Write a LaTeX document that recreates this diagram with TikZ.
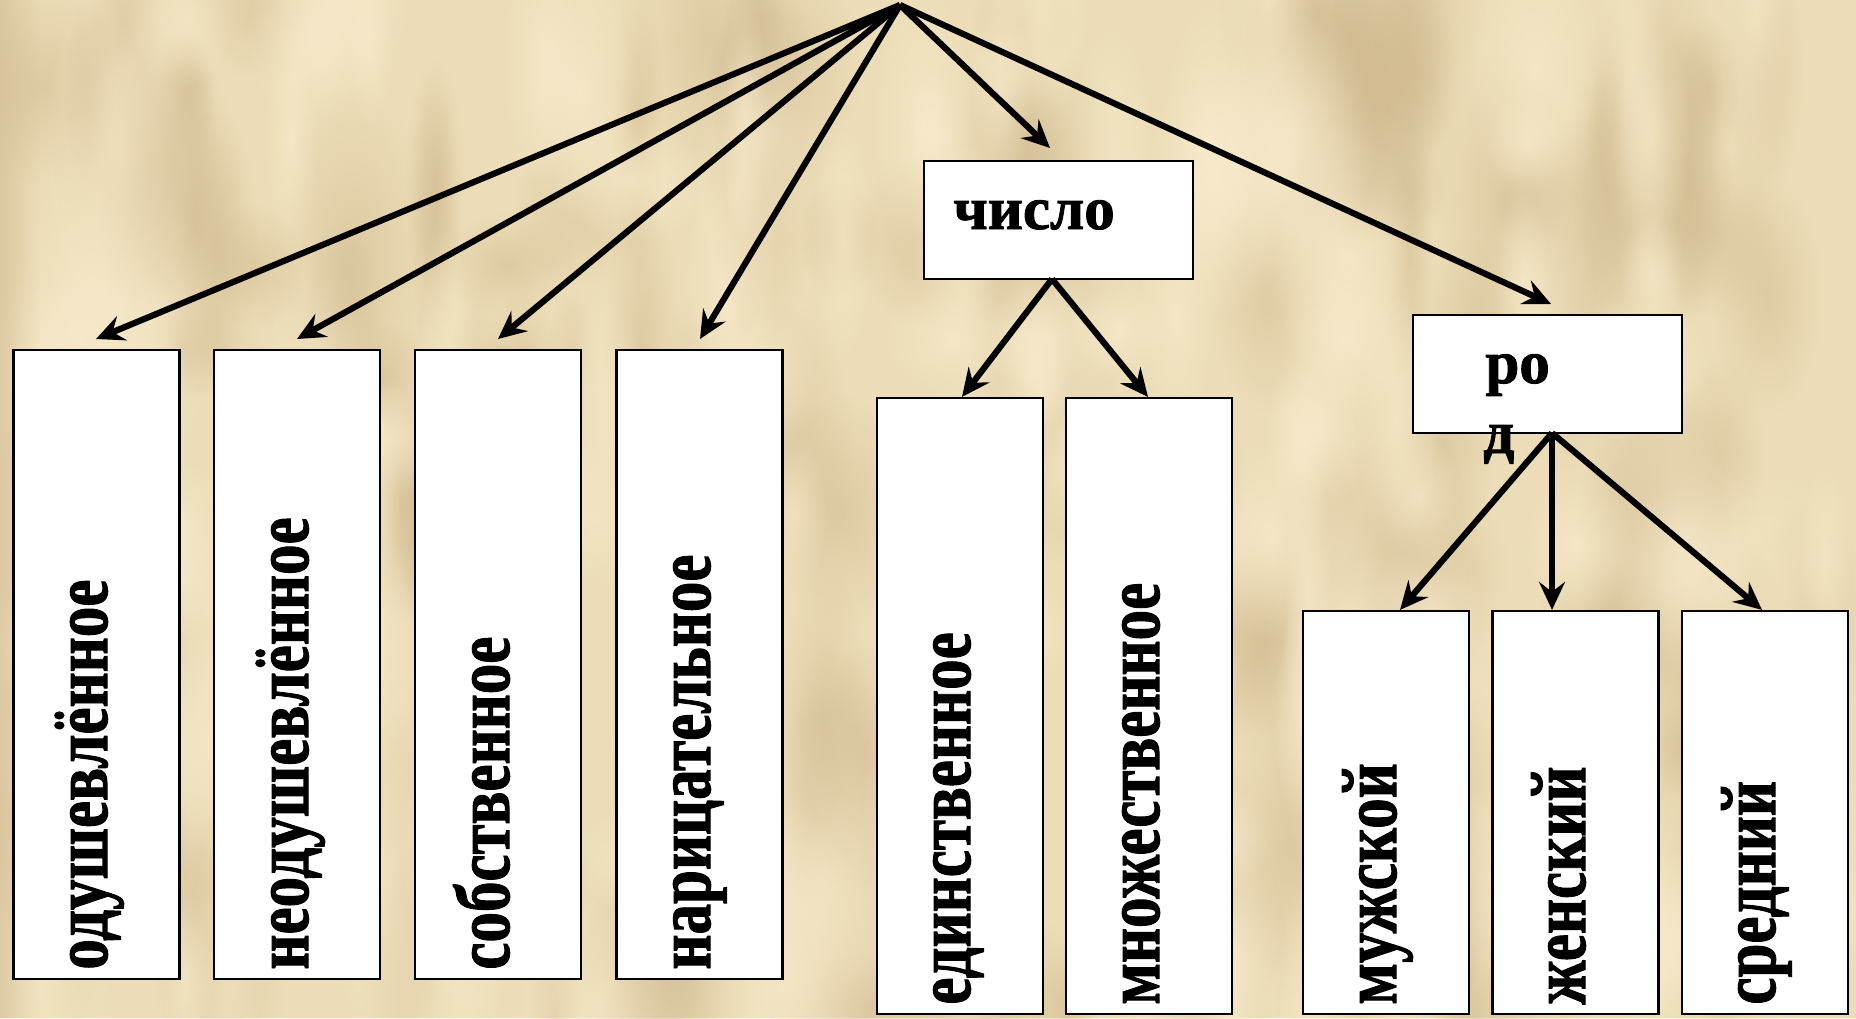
\documentclass[tikz,border=0pt]{standalone}
\usepackage{fontspec}
\setmainfont{Liberation Serif}[BoldFeatures={FakeBold=1.5}]
\usetikzlibrary{arrows.meta,fadings}
\definecolor{parch}{RGB}{236,221,184}
\definecolor{parchdark}{RGB}{205,180,136}
\definecolor{parchlight}{RGB}{250,237,208}
\tikzfading[name=blobfade, inner color=transparent!0, outer color=transparent!100]
\tikzset{
  box/.style={draw=black, line width=1.1pt, fill=white, inner sep=0pt},
  conn/.style={line width=3.1pt, -{Stealth[length=14pt,width=13pt,inset=5pt]}},
  vtext/.style={rotate=90, yscale=1.28, anchor=base west, inner sep=0pt, font=\fontsize{30.5}{36}\selectfont\bfseries},
  htext/.style={anchor=base west, inner sep=0pt, font=\fontsize{30.5}{36}\selectfont\bfseries},
}
\begin{document}
\begin{tikzpicture}[x=0.5pt,y=-0.5pt]
\useasboundingbox (0,0) rectangle (1856,1018);
\fill[parch] (0,0) rectangle (1856,1018);
\begin{scope}
\clip (0,0) rectangle (1856,1018);
\pgfmathsetseed{12}
\foreach \k in {1,...,150}{
  \pgfmathsetmacro\xx{random(0,1856)}
  \pgfmathsetmacro\yy{random(0,1018)}
  \pgfmathsetmacro\rx{random(12,45)}
  \pgfmathsetmacro\ry{random(25,90)}
  \fill[parchdark, opacity=0.45, path fading=blobfade] (\xx,\yy) ellipse [x radius=\rx pt, y radius=\ry pt];
}
\foreach \k in {1,...,130}{
  \pgfmathsetmacro\xx{random(0,1856)}
  \pgfmathsetmacro\yy{random(0,1018)}
  \pgfmathsetmacro\rx{random(12,45)}
  \pgfmathsetmacro\ry{random(25,90)}
  \fill[parchlight, opacity=0.6, path fading=blobfade] (\xx,\yy) ellipse [x radius=\rx pt, y radius=\ry pt];
}
\fill[parchdark, opacity=0.5, path fading=east] (0,0) rectangle (40,1018);
\end{scope}

% boxes
\node[box, minimum width=83pt, minimum height=314.5pt] (b1) at (96.5,664.5) {};
\node[box, minimum width=83pt, minimum height=314.5pt] (b2) at (297,664.5) {};
\node[box, minimum width=83pt, minimum height=314.5pt] (b3) at (498,664.5) {};
\node[box, minimum width=83pt, minimum height=314.5pt] (b4) at (699.5,664.5) {};
\node[box, minimum width=134.5pt, minimum height=59pt] (num) at (1058.5,220) {};
\node[box, minimum width=83pt, minimum height=308pt] (b5) at (960,706) {};
\node[box, minimum width=83pt, minimum height=308pt] (b6) at (1149,706) {};
\node[box, minimum width=134.5pt, minimum height=59pt] (rod) at (1547.5,374) {};
\node[box, minimum width=83pt, minimum height=201.5pt] (b7) at (1386,812.5) {};
\node[box, minimum width=83pt, minimum height=201.5pt] (b8) at (1575.5,812.5) {};
\node[box, minimum width=83pt, minimum height=201.5pt] (b9) at (1765,812.5) {};

% texts
\node[vtext] (t1) at (107,970) {одушевлённое};
\node[vtext] (t2) at (308,970) {неодушевлённое};
\node[vtext] (t3) at (509,970) {собственное};
\node[vtext] (t4) at (710,970) {нарицательное};
\node[vtext] (t5) at (970,1005) {единственное};
\node[vtext] (t6) at (1159,1005) {множественное};
\node[vtext] (t7) at (1396,1005) {мужской};
\node[vtext] (t8) at (1585,1005) {женский};
\node[vtext] (t9) at (1775,1005) {средний};
\node[htext] (tn) at (953,229) {число};
\node[htext] (tr1) at (1485,383) {ро};
\node[htext] (tr2) at (1483,453) {д};

% connector points
\coordinate (top) at (900,5);
\coordinate (e1) at (96,339);
\coordinate (e2) at (297,339);
\coordinate (e3) at (498,339);
\coordinate (e4) at (700,339);
\coordinate (en) at (1050,148);
\coordinate (er) at (1551,304);
\coordinate (ns) at (1052,279);
\coordinate (rs) at (1552,433);

\draw[conn] (top) -- (e1);
\draw[conn] (top) -- (e2);
\draw[conn] (top) -- (e3);
\draw[conn] (top) -- (e4);
\draw[conn] (top) -- (en);
\draw[conn] (top) -- (er);
\draw[conn] (ns) -- (b5.north -| 962,0);
\draw[conn] (ns) -- (b6.north -| 1148,0);
\draw[conn] (rs) -- (b7.north -| 1400,0);
\draw[conn] (rs) -- (b8.north -| rs);
\draw[conn] (rs) -- (b9.north -| 1762,0);
\end{tikzpicture}
\end{document}
